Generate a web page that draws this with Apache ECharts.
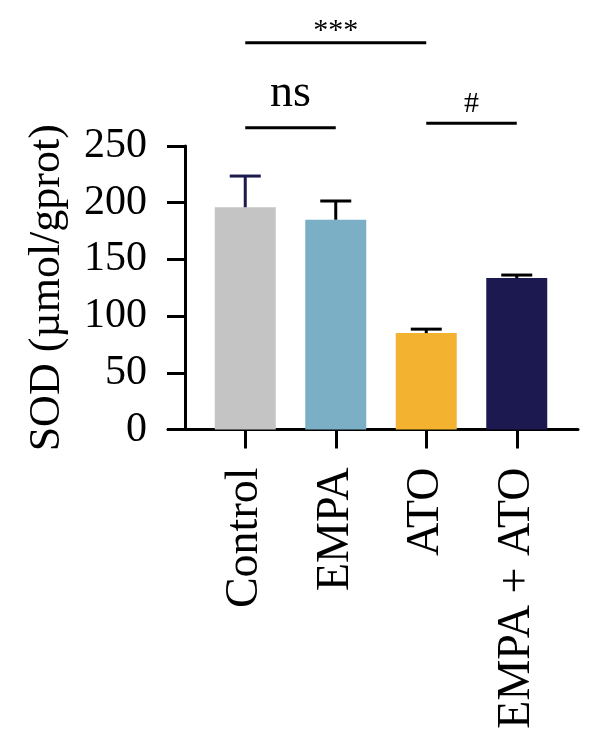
<!DOCTYPE html>
<html>
<head>
<meta charset="utf-8">
<script src="https://cdn.jsdelivr.net/npm/echarts@6/dist/echarts.min.js"></script>
<style>
  html, body { margin: 0; padding: 0; background: #fff; }
  #main { width: 600px; height: 749px; }
</style>
</head>
<body>
<div id="main"></div>
<script>
// data
var categories = ['Control', 'EMPA', 'ATO', 'EMPA + ATO'];
var sodMean = [196, 185, 85, 133.5];
var sodErr = [27.5, 16.5, 3.5, 2.7];
var yMin = 0, yMax = 250, yStep = 50;
// significance brackets: [from, to, label, height in axis units]
var sigPairs = [
  [0, 2, '***', 341],
  [0, 1, 'ns', 266],
  [2, 3, '#', 270]
];

var barColors = ['#c4c4c4', '#7aafc6', '#f3b331', '#1c1850'];
var errColors = ['#1b1a4d', '#000', '#000', '#000'];
var FONT = '"Liberation Serif", "Times New Roman", serif';

var chart = echarts.init(document.getElementById('main'), null, { renderer: 'canvas' });

var errData = sodMean.map(function (m, i) { return [i, m, m + sodErr[i]]; });

var option = {
  animation: false,
  backgroundColor: '#fff',
  grid: [
    { left: 200, right: 38, top: 146, bottom: 319.5 },
    // only used for the long x axis line
    { left: 168, right: 22, top: 146, bottom: 319.5 }
  ],
  xAxis: [{
    type: 'category',
    gridIndex: 0,
    data: categories,
    axisLine: { show: false },
    axisTick: { show: true, alignWithLabel: true, length: 19, lineStyle: { color: '#000', width: 3 } },
    axisLabel: {
      rotate: 90, margin: 38, interval: 0,
      color: '#000', fontFamily: FONT, fontSize: 46
    }
  }, {
    type: 'value',
    gridIndex: 1,
    min: 0, max: 1,
    axisLine: { show: true, lineStyle: { color: '#000', width: 3 } },
    axisTick: { show: false },
    axisLabel: { show: false },
    splitLine: { show: false }
  }],
  yAxis: [{
    type: 'value',
    gridIndex: 0,
    min: yMin, max: yMax, interval: yStep,
    offset: 15,
    name: 'SOD (µmol/gprot)',
    nameLocation: 'middle',
    nameGap: 116,
    nameTextStyle: { color: '#000', fontFamily: FONT, fontSize: 44 },
    axisLine: { show: true, lineStyle: { color: '#000', width: 3 } },
    axisTick: { show: true, length: 18, lineStyle: { color: '#000', width: 3 } },
    axisLabel: { margin: 38, color: '#000', fontFamily: FONT, fontSize: 42 },
    splitLine: { show: false }
  }, {
    type: 'value',
    gridIndex: 1,
    show: false
  }],
  series: [{
    type: 'bar',
    xAxisIndex: 0, yAxisIndex: 0,
    barWidth: 61,
    data: sodMean.map(function (v, i) {
      return { value: v, itemStyle: { color: barColors[i] } };
    })
  }, {
    type: 'custom',
    xAxisIndex: 0, yAxisIndex: 0,
    z: 3,
    data: errData,
    renderItem: function (params, api) {
      var i = api.value(0);
      var lo = api.coord([i, api.value(1)]);
      var hi = api.coord([i, api.value(2)]);
      var half = 15.5;
      var style = { stroke: errColors[params.dataIndex], lineWidth: 3 };
      return {
        type: 'group',
        children: [
          { type: 'line', shape: { x1: lo[0], y1: lo[1], x2: hi[0], y2: hi[1] }, style: style },
          { type: 'line', shape: { x1: hi[0] - half, y1: hi[1], x2: hi[0] + half, y2: hi[1] }, style: style }
        ]
      };
    }
  }]
};

chart.setOption(option);

// significance brackets placed through the axes
var sigFont = { '***': 30, 'ns': 46, '#': 30 };
var sigLift = { '***': -3, 'ns': 11, '#': 4 };
var graphics = [];
sigPairs.forEach(function (p) {
  var a = chart.convertToPixel({ xAxisIndex: 0, yAxisIndex: 0 }, [p[0], p[3]]);
  var b = chart.convertToPixel({ xAxisIndex: 0, yAxisIndex: 0 }, [p[1], p[3]]);
  graphics.push({
    type: 'line',
    shape: { x1: a[0], y1: a[1], x2: b[0], y2: b[1] },
    style: { stroke: '#000', lineWidth: 3 }
  });
  graphics.push({
    type: 'text',
    x: (a[0] + b[0]) / 2,
    y: a[1] - sigLift[p[2]],
    style: {
      text: p[2], fill: '#000', fontFamily: FONT, fontSize: sigFont[p[2]],
      align: 'center', verticalAlign: 'bottom'
    }
  });
});
chart.setOption({ graphic: graphics });
</script>
</body>
</html>
